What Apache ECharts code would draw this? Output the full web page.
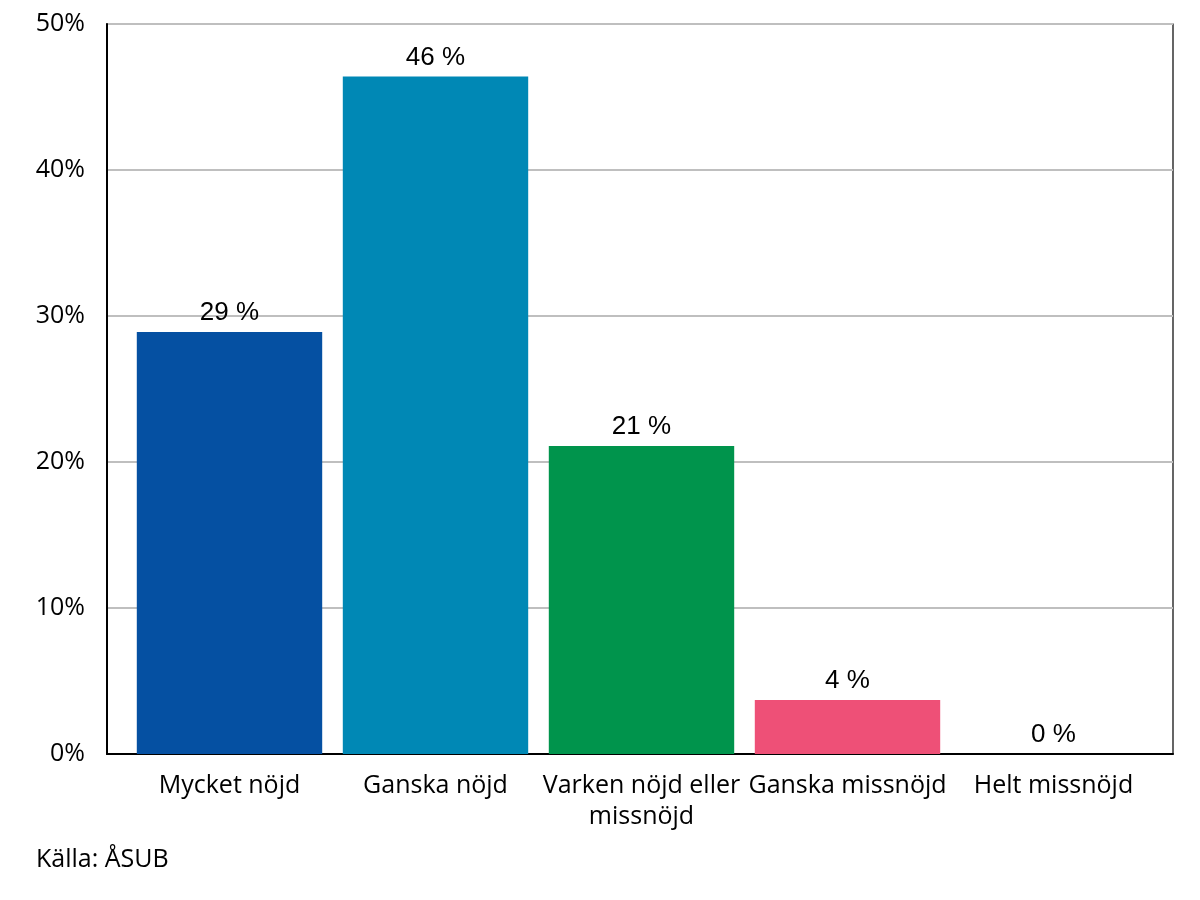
<!DOCTYPE html>
<html><head><meta charset="utf-8">
<script src="https://cdn.jsdelivr.net/npm/echarts@6/dist/echarts.min.js"></script>
<style>html,body{margin:0;padding:0;background:#fff}#c{width:1200px;height:900px}</style>
</head><body><div id="c"></div>
<script>
const categories = ['Mycket nöjd', 'Ganska nöjd', 'Varken nöjd eller\nmissnöjd', 'Ganska missnöjd', 'Helt missnöjd'];
const values = [28.9, 46.4, 21.1, 3.7, 0];
const barColors = ['#0550A2', '#0088B5', '#00944C', '#EE5077'];
const yTicks = [0, 10, 20, 30, 40, 50];
const source = 'Källa: ÅSUB';

const chart = echarts.init(document.getElementById('c'));
const axisFont = '"Open Sans", "Noto Sans", sans-serif';
chart.setOption({
  animation: false,
  backgroundColor: '#fff',
  grid: [
    {left: 107, right: 27, top: 24, bottom: 146, show: true, borderColor: '#000', borderWidth: 1.2, backgroundColor: 'transparent'},
    {left: 126.5, right: 43.5, top: 24, bottom: 146}
  ],
  xAxis: [
    {gridIndex: 0, type: 'category', data: categories, axisLine: {show: true, lineStyle: {color: '#000', width: 2}}, axisTick: {show: false}, axisLabel: {show: false}},
    {gridIndex: 1, type: 'category', data: categories, axisLine: {show: false}, axisTick: {show: false},
     axisLabel: {interval: 0, margin: 16, fontFamily: axisFont, fontSize: 25, color: '#000', lineHeight: 31}}
  ],
  yAxis: [
    {gridIndex: 0, type: 'value', min: yTicks[0], max: yTicks[yTicks.length - 1], interval: 10,
     axisLine: {show: true, lineStyle: {color: '#000', width: 2}}, axisTick: {show: false},
     splitLine: {show: true, lineStyle: {color: '#BFBFBF', width: 2}},
     axisLabel: {margin: 22, fontFamily: axisFont, fontSize: 25, color: '#000', formatter: v => v + '%'}},
    {gridIndex: 1, type: 'value', min: 0, max: 50, interval: 10, show: false, splitLine: {show: false}}
  ],
  series: [{
    type: 'bar', xAxisIndex: 1, yAxisIndex: 1,
    data: values.map((v, i) => ({value: v, itemStyle: {color: barColors[i % barColors.length]}})),
    barCategoryGap: '10%',
    label: {show: true, position: 'top', distance: 6, color: '#000', fontFamily: '"Liberation Sans", Arial, sans-serif', fontSize: 26,
      formatter: p => Math.round(p.value) + ' %'}
  }],
  graphic: [{type: 'text', left: 36, top: 847, style: {text: source, fontFamily: axisFont, fontSize: 25, fill: '#000'}}]
});
</script></body></html>
